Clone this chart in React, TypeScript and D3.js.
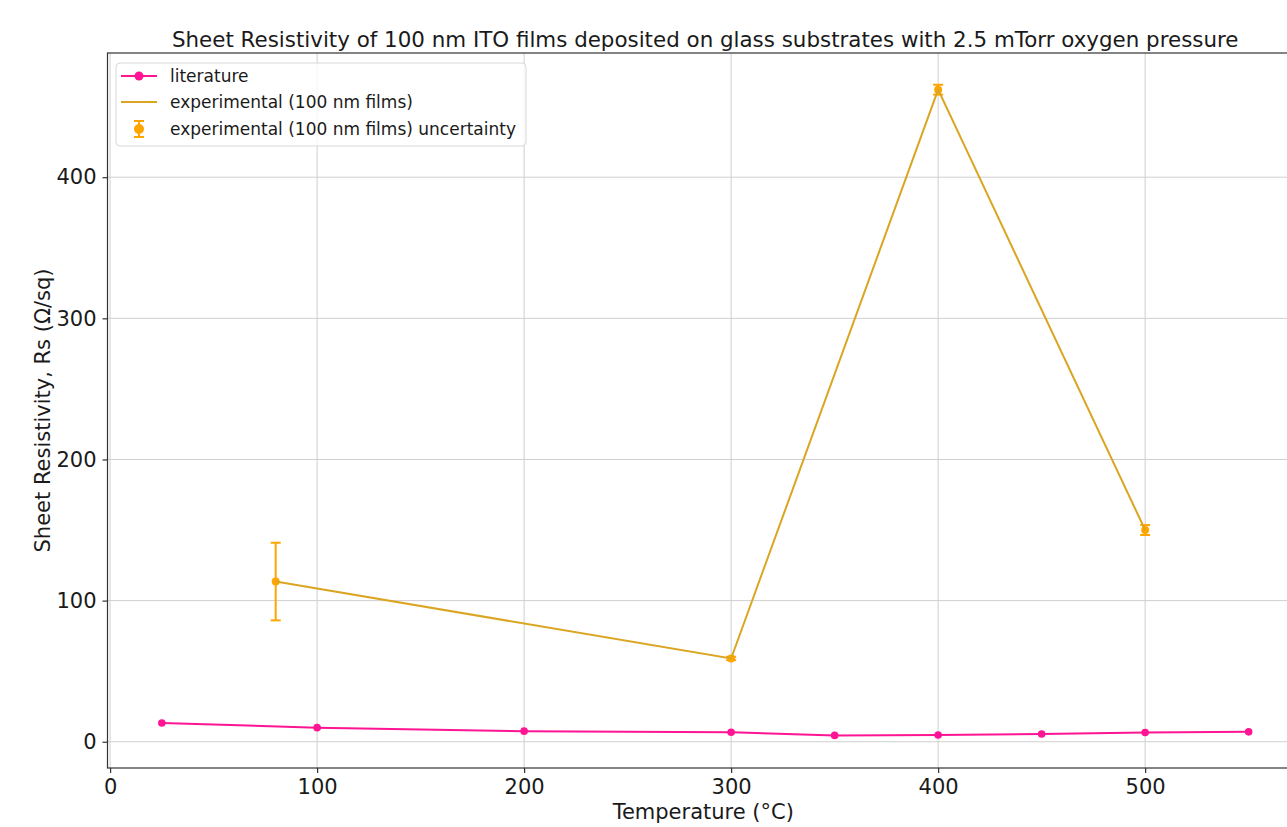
import { useEffect, useRef } from 'react'
import * as d3 from 'd3'

const W = 1287
const H = 827
const PLOT = { left: 107.5, right: 1303, top: 53, bottom: 768 }

const TITLE = 'Sheet Resistivity of 100 nm ITO films deposited on glass substrates with 2.5 mTorr oxygen pressure'

const litTemps = [25, 100, 200, 300, 350, 400, 450, 500, 550]
const litRs = [13.3, 10, 7.5, 6.7, 4.5, 4.8, 5.5, 6.5, 7]

const expTemps = [80, 300, 400, 500]
const expRs = [113.5, 59, 462, 150]
const expErr = [27.5, 1.2, 3.5, 3.5]

const xTicks = [0, 100, 200, 300, 400, 500]
const yTicks = [0, 100, 200, 300, 400]

const LIT_COLOR = '#ff1493'
const EXP_LINE = '#daa520'
const EXP_ERR = '#ffa500'
const FONT = '"DejaVu Sans", sans-serif'

export default function App() {
  const svgRef = useRef<SVGSVGElement | null>(null)

  useEffect(() => {
    if (!svgRef.current) return
    const svg = d3.select(svgRef.current)
    svg.selectAll('*').remove()

    const x = d3.scaleLinear().domain([-1.25, 576.25]).range([PLOT.left, PLOT.right])
    const y = d3.scaleLinear().domain([-18.6, 488]).range([PLOT.bottom, PLOT.top])

    svg.append('rect').attr('width', W).attr('height', H).attr('fill', '#fff')

    // grid
    const grid = svg.append('g').attr('stroke', '#cfcfcf').attr('stroke-width', 1)
    xTicks.forEach(t => {
      grid.append('line').attr('x1', x(t)).attr('x2', x(t)).attr('y1', PLOT.top).attr('y2', PLOT.bottom)
    })
    yTicks.forEach(t => {
      grid.append('line').attr('x1', PLOT.left).attr('x2', PLOT.right).attr('y1', y(t)).attr('y2', y(t))
    })

    // spines
    svg.append('rect')
      .attr('x', PLOT.left).attr('y', PLOT.top)
      .attr('width', PLOT.right - PLOT.left).attr('height', PLOT.bottom - PLOT.top)
      .attr('fill', 'none').attr('stroke', '#333').attr('stroke-width', 1.2)

    // axes
    const xAxis = svg.append('g')
      .attr('transform', `translate(0,${PLOT.bottom})`)
      .call(d3.axisBottom(x).tickValues(xTicks).tickSize(5).tickPadding(6).tickFormat(d3.format('d')))
    const yAxis = svg.append('g')
      .attr('transform', `translate(${PLOT.left},0)`)
      .call(d3.axisLeft(y).tickValues(yTicks).tickSize(5).tickPadding(6).tickFormat(d3.format('d')))
    ;[xAxis, yAxis].forEach(a => {
      a.select('.domain').remove()
      a.selectAll('line').attr('stroke', '#333').attr('stroke-width', 1.2)
      a.selectAll('text').attr('font-family', FONT).attr('font-size', 21).attr('fill', '#1a1a1a')
    })

    // literature
    const line = d3.line<number>()
    svg.append('path')
      .attr('d', line(litTemps.map((t, i) => [x(t), y(litRs[i])]) as any))
      .attr('fill', 'none').attr('stroke', LIT_COLOR).attr('stroke-width', 2)
    svg.append('g').selectAll('circle').data(litTemps).enter().append('circle')
      .attr('cx', t => x(t)).attr('cy', (_, i) => y(litRs[i])).attr('r', 3.8).attr('fill', LIT_COLOR)

    // experimental uncertainty
    const eb = svg.append('g').attr('stroke', EXP_ERR).attr('stroke-width', 2)
    expTemps.forEach((t, i) => {
      const cx = x(t)
      const lo = y(expRs[i] - expErr[i])
      const hi = y(expRs[i] + expErr[i])
      eb.append('line').attr('x1', cx).attr('x2', cx).attr('y1', lo).attr('y2', hi)
      eb.append('line').attr('x1', cx - 5).attr('x2', cx + 5).attr('y1', lo).attr('y2', lo)
      eb.append('line').attr('x1', cx - 5).attr('x2', cx + 5).attr('y1', hi).attr('y2', hi)
    })
    svg.append('g').selectAll('circle').data(expTemps).enter().append('circle')
      .attr('cx', t => x(t)).attr('cy', (_, i) => y(expRs[i])).attr('r', 4).attr('fill', EXP_ERR)

    // experimental line
    svg.append('path')
      .attr('d', line(expTemps.map((t, i) => [x(t), y(expRs[i])]) as any))
      .attr('fill', 'none').attr('stroke', EXP_LINE).attr('stroke-width', 2)

    // title and labels
    svg.append('text')
      .attr('x', (PLOT.left + PLOT.right) / 2).attr('y', 47)
      .attr('text-anchor', 'middle').attr('font-family', FONT).attr('font-size', 21.4).attr('fill', '#1a1a1a')
      .text(TITLE)
    svg.append('text')
      .attr('x', (PLOT.left + PLOT.right) / 2 - 2).attr('y', 819)
      .attr('text-anchor', 'middle').attr('font-family', FONT).attr('font-size', 21).attr('fill', '#1a1a1a')
      .text('Temperature (°C)')
    svg.append('text')
      .attr('transform', `translate(50,${(PLOT.top + PLOT.bottom) / 2}) rotate(-90)`)
      .attr('text-anchor', 'middle').attr('font-family', FONT).attr('font-size', 21).attr('fill', '#1a1a1a')
      .text('Sheet Resistivity, Rs (Ω/sq)')

    // legend
    const lg = svg.append('g')
    lg.append('rect')
      .attr('x', 116).attr('y', 63).attr('width', 410).attr('height', 83).attr('rx', 4)
      .attr('fill', 'rgba(255,255,255,0.8)').attr('stroke', '#d8d8d8').attr('stroke-width', 1)
    const rows = [76, 102, 129]
    const labels = ['literature', 'experimental (100 nm films)', 'experimental (100 nm films) uncertainty']
    lg.append('line').attr('x1', 121).attr('x2', 157).attr('y1', rows[0]).attr('y2', rows[0])
      .attr('stroke', LIT_COLOR).attr('stroke-width', 2)
    lg.append('circle').attr('cx', 139).attr('cy', rows[0]).attr('r', 4.5).attr('fill', LIT_COLOR)
    lg.append('line').attr('x1', 121).attr('x2', 157).attr('y1', rows[1]).attr('y2', rows[1])
      .attr('stroke', EXP_LINE).attr('stroke-width', 2)
    const lgEb = lg.append('g').attr('stroke', EXP_ERR).attr('stroke-width', 2)
    lgEb.append('line').attr('x1', 139).attr('x2', 139).attr('y1', rows[2] - 8).attr('y2', rows[2] + 8)
    lgEb.append('line').attr('x1', 134).attr('x2', 144).attr('y1', rows[2] - 8).attr('y2', rows[2] - 8)
    lgEb.append('line').attr('x1', 134).attr('x2', 144).attr('y1', rows[2] + 8).attr('y2', rows[2] + 8)
    lg.append('circle').attr('cx', 139).attr('cy', rows[2]).attr('r', 5).attr('fill', EXP_ERR)
    labels.forEach((l, i) => {
      lg.append('text').attr('x', 170).attr('y', rows[i]).attr('dy', '0.35em')
        .attr('font-family', FONT).attr('font-size', 17).attr('fill', '#1a1a1a').text(l)
    })
  }, [])

  return (
    <svg
      ref={svgRef}
      width={W}
      height={H}
      style={{ position: 'absolute', left: 0, top: 0, display: 'block' }}
    />
  )
}
